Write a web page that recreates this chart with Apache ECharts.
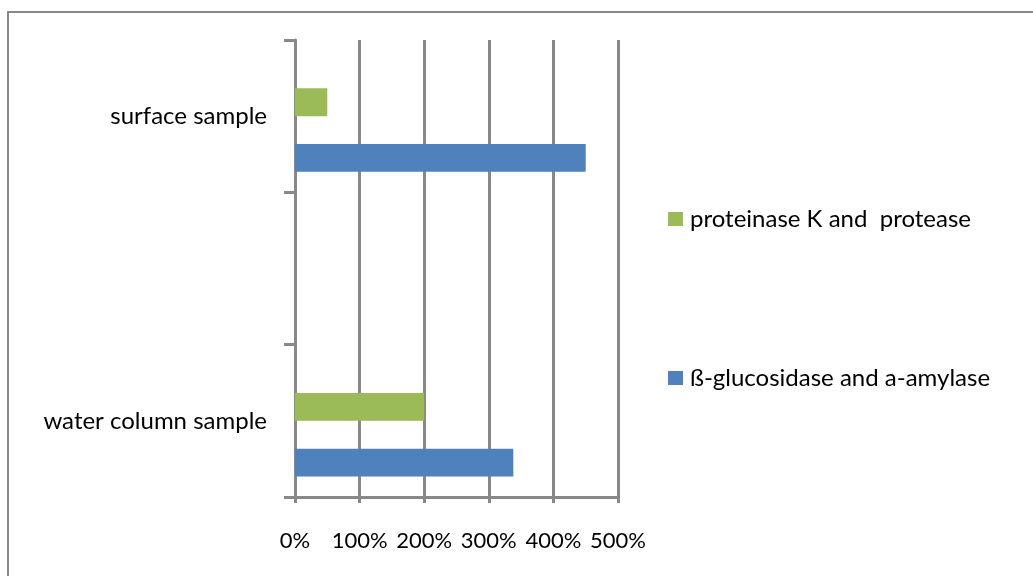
<!DOCTYPE html>
<html>
<head>
<meta charset="utf-8">
<script src="https://cdn.jsdelivr.net/npm/echarts@6/dist/echarts.min.js"></script>
<style>
  html, body { margin: 0; padding: 0; background: #fff; }
  #chart { width: 1033px; height: 576px; }
</style>
</head>
<body>
<div id="chart"></div>
<script>
// Categories, bottom to top; the middle slot is an empty row
const categories = ['water column sample', '', 'surface sample'];
// Activity, in percent
const proteinase = [200, null, 50];
const glucosidase = [338, null, 450];
const empty = [null, null, null];
const seriesNames = ['proteinase K and  protease', 'ß-glucosidase and a-amylase'];
const xTicks = { min: 0, max: 500, step: 100 };

const FONT = 'Lato';
const GRAY = '#888888';

const chart = echarts.init(document.getElementById('chart'), null, { renderer: 'canvas' });

chart.setOption({
  animation: false,
  backgroundColor: '#ffffff',
  textStyle: { fontFamily: FONT, color: '#000' },
  graphic: [{
    type: 'rect',
    shape: { x: 8, y: 12, width: 1200, height: 800 },
    style: { fill: 'none', stroke: GRAY, lineWidth: 2 },
    silent: true
  }],
  grid: { left: 295, right: 415, top: 40, bottom: 79, containLabel: false },
  legend: {
    orient: 'vertical',
    left: 668,
    top: 207,
    padding: 0,
    itemWidth: 15,
    itemHeight: 14,
    itemGap: 135,
    icon: 'rect',
    data: seriesNames,
    textStyle: { fontFamily: FONT, fontSize: 24, color: '#000', padding: [0, 0, 0, 2] }
  },
  xAxis: {
    type: 'value',
    min: xTicks.min,
    max: xTicks.max,
    interval: xTicks.step,
    axisLine: { show: true, lineStyle: { color: GRAY, width: 3 } },
    axisTick: { show: true, length: 6, lineStyle: { color: GRAY, width: 3 } },
    splitLine: { show: true, lineStyle: { color: GRAY, width: 3 } },
    axisLabel: { formatter: '{value}%', fontSize: 22, color: '#000', fontFamily: FONT, margin: 33 }
  },
  yAxis: {
    type: 'category',
    data: categories,
    axisLine: { show: true, lineStyle: { color: GRAY, width: 3 } },
    axisTick: { show: true, length: 11, lineStyle: { color: GRAY, width: 3 } },
    splitLine: { show: false },
    axisLabel: { fontSize: 24, color: '#000', fontFamily: FONT, margin: 28 }
  },
  series: [
    { name: 'blank-a', type: 'bar', data: empty, barGap: 0, barCategoryGap: '27%' },
    { name: seriesNames[0], type: 'bar', data: proteinase, itemStyle: { color: '#9BBB59' }, barGap: 0, barCategoryGap: '27%' },
    { name: 'blank-b', type: 'bar', data: empty, barGap: 0, barCategoryGap: '27%' },
    { name: seriesNames[1], type: 'bar', data: glucosidase, itemStyle: { color: '#4F81BD' }, barGap: 0, barCategoryGap: '27%' }
  ]
});
</script>
</body>
</html>
